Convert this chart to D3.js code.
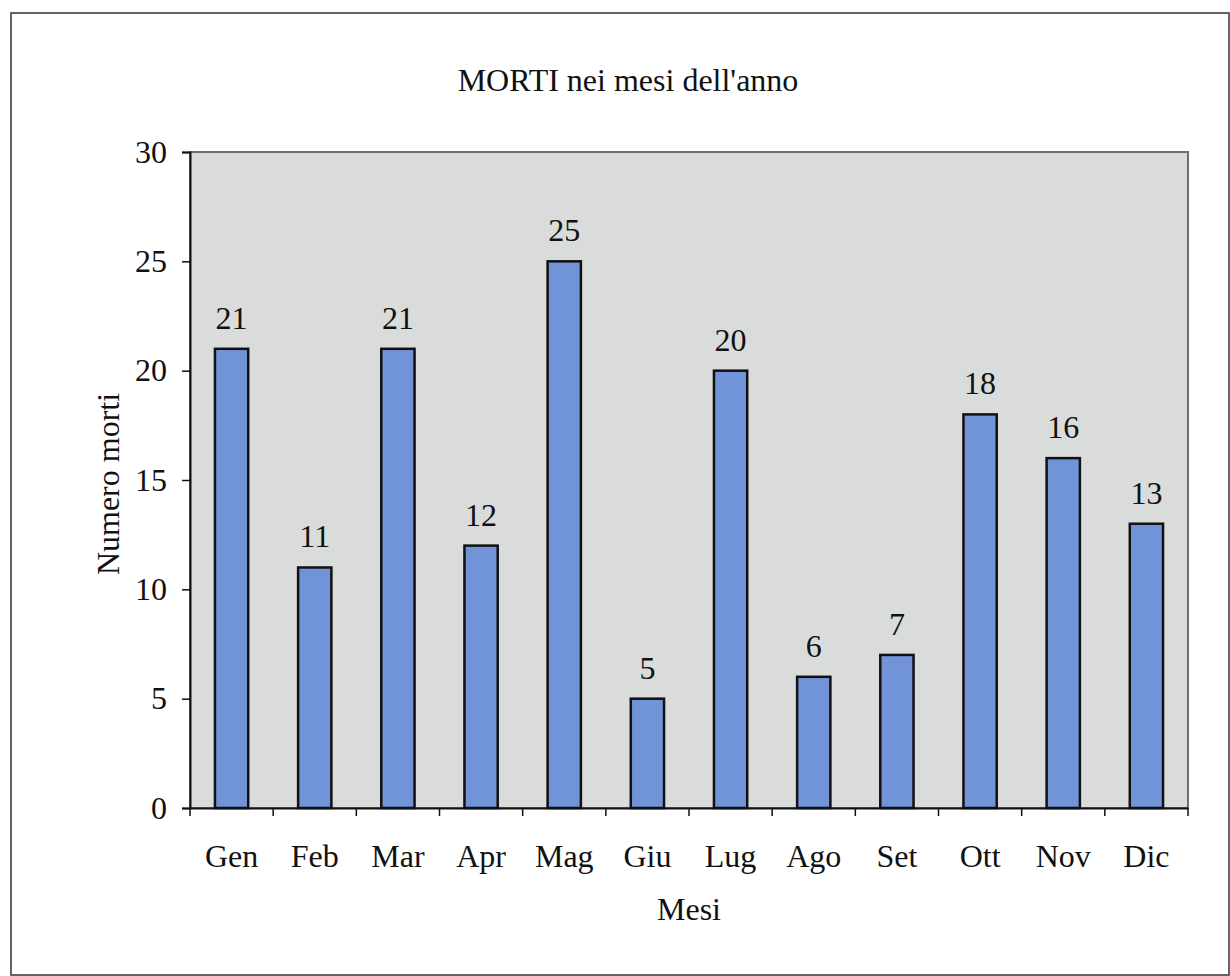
<!DOCTYPE html>
<html>
<head>
<meta charset="utf-8">
<script src="https://cdn.jsdelivr.net/npm/d3@7"></script>
<style>
  body { margin: 0; background: #fff; }
  text { font-family: "Liberation Serif", "DejaVu Serif", serif; fill: #111; }
</style>
</head>
<body>
<svg id="chart" width="1230" height="976"></svg>
<script>
const mesi = ['Gen', 'Feb', 'Mar', 'Apr', 'Mag', 'Giu', 'Lug', 'Ago', 'Set', 'Ott', 'Nov', 'Dic'];
const morti = [21, 11, 21, 12, 25, 5, 20, 6, 7, 18, 16, 13];
const yTicks = [0, 5, 10, 15, 20, 25, 30];

const svg = d3.select('#chart');
const plot = {left: 190, top: 152, right: 1188, bottom: 808};
const fs = 32;

// outer frame
svg.append('rect')
    .attr('x', 11).attr('y', 13)
    .attr('width', 1218).attr('height', 962)
    .attr('fill', 'none').attr('stroke', '#333').attr('stroke-width', 1.5);

let xCat = d3.scaleBand().domain(mesi).range([plot.left, plot.right]);
let y = d3.scaleLinear().domain([0, 30]).range([plot.bottom, plot.top]);

// plot area
svg.append('rect')
    .attr('x', plot.left).attr('y', plot.top)
    .attr('width', plot.right - plot.left).attr('height', plot.bottom - plot.top)
    .attr('fill', '#dadcdb').attr('stroke', '#6e6e6e').attr('stroke-width', 2);

// bars
svg.append('g').selectAll('rect')
    .data(morti)
    .join('rect')
    .attr('x', (d, i) => xCat(mesi[i]) + xCat.bandwidth() * 0.3)
    .attr('width', xCat.bandwidth() * 0.4)
    .attr('y', d => y(d))
    .attr('height', d => y(0) - y(d))
    .attr('fill', '#7193d8')
    .attr('stroke', '#111')
    .attr('stroke-width', 2.5);

// value labels
svg.append('g').selectAll('text')
    .data(morti)
    .join('text')
    .attr('x', (d, i) => xCat(mesi[i]) + xCat.bandwidth() / 2)
    .attr('y', d => y(d) - 20)
    .attr('text-anchor', 'middle')
    .attr('font-size', fs)
    .text(d => d);

// y axis
let yAxis = svg.append('g')
    .attr('transform', `translate(${plot.left},0)`)
    .call(d3.axisLeft(y).tickValues(yTicks).tickSize(8).tickPadding(15));
yAxis.select('.domain').attr('stroke', '#111').attr('stroke-width', 2);
yAxis.selectAll('.tick line').attr('stroke', '#111').attr('stroke-width', 1.5);
yAxis.selectAll('.tick text').attr('font-size', fs).attr('font-family', '"Liberation Serif", serif').attr('fill', '#111');

// x axis: ticks at category boundaries
let xAxis = svg.append('g')
    .attr('transform', `translate(0,${plot.bottom})`)
    .call(d3.axisBottom(xCat).tickSize(0).tickPadding(36));
xAxis.select('.domain').attr('stroke', '#111').attr('stroke-width', 2);
xAxis.selectAll('.tick text').attr('font-size', fs).attr('font-family', '"Liberation Serif", serif').attr('fill', '#111');
let bounds = mesi.map(m => xCat(m)).concat([plot.right]);
xAxis.append('g').selectAll('line')
    .data(bounds)
    .join('line')
    .attr('x1', d => d).attr('x2', d => d)
    .attr('y1', 0).attr('y2', 8)
    .attr('stroke', '#111').attr('stroke-width', 1.5);

// title and axis titles
svg.append('text')
    .attr('x', 628).attr('y', 91)
    .attr('text-anchor', 'middle')
    .attr('font-size', fs)
    .text("MORTI nei mesi dell'anno");

svg.append('text')
    .attr('x', 689).attr('y', 920)
    .attr('text-anchor', 'middle')
    .attr('font-size', fs)
    .text('Mesi');

svg.append('text')
    .attr('transform', 'translate(119,484) rotate(-90)')
    .attr('text-anchor', 'middle')
    .attr('font-size', fs)
    .text('Numero morti');
</script>
</body>
</html>
